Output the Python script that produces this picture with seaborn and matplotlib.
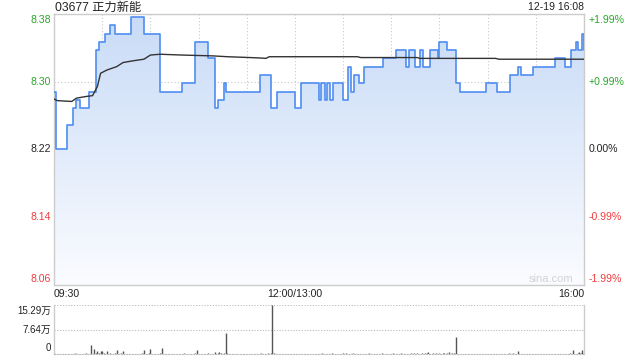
import numpy as np
import pandas as pd
import matplotlib
matplotlib.use("Agg")
import matplotlib.pyplot as plt
import matplotlib.transforms as mtransforms
from matplotlib.colors import LinearSegmentedColormap
import seaborn as sns

# ---------------- data ----------------
title = "03677 正力新能"
stamp = "12-19 16:08"
prev_close = 8.22
band = 0.0199  # +/- range of the price axis

# minute index (0 = 09:30, 150 = 12:00/13:00, 330 = 16:00) where price changes
price_min = [0, 1, 8, 12, 14, 16, 22, 26, 28, 32,
             35, 38, 48, 56, 66, 80, 88, 96, 100, 102,
             106, 107, 128, 135, 139, 150, 154, 165, 166, 169,
             170, 172, 174, 180, 183, 185, 187, 190, 193, 205,
             213, 219, 221, 225, 228, 230, 234, 239, 240, 245,
             250, 253, 269, 276, 284, 289, 291, 298, 312, 318,
             322, 325, 326, 329, 330]
price_val = [8.29, 8.22, 8.25, 8.27, 8.28, 8.27, 8.29, 8.34, 8.35, 8.36,
             8.37, 8.36, 8.38, 8.36, 8.29, 8.30, 8.35, 8.33, 8.27, 8.28,
             8.30, 8.29, 8.31, 8.27, 8.29, 8.27, 8.30, 8.28, 8.30, 8.28,
             8.30, 8.28, 8.30, 8.28, 8.32, 8.29, 8.31, 8.30, 8.32, 8.33,
             8.34, 8.32, 8.34, 8.32, 8.34, 8.32, 8.34, 8.33, 8.35, 8.34,
             8.30, 8.29, 8.30, 8.29, 8.31, 8.32, 8.31, 8.32, 8.33, 8.32,
             8.34, 8.35, 8.34, 8.36, 8.34]

# average price line
avg_min = [0, 2, 11, 14, 20, 24, 27, 29, 33, 39,
           43, 49, 56, 60, 66, 80, 99, 108, 122, 128,
           132, 134, 189, 191, 226, 228, 275, 277, 330]
avg_val = [8.281, 8.279, 8.278, 8.282, 8.284, 8.285, 8.296, 8.312, 8.316, 8.320,
           8.325, 8.327, 8.329, 8.334, 8.335, 8.334, 8.333, 8.332, 8.331, 8.3305,
           8.330, 8.332, 8.332, 8.331, 8.331, 8.330, 8.330, 8.329, 8.329]

# volume per minute, in hundreds of shares (minutes 0..330)
volume_h = [35, 8, 12, 6, 10, 14, 9, 7, 15, 11,
            6, 13, 9, 18, 10, 8, 12, 7, 11, 9,
            22, 8, 14, 290, 12, 155, 30, 100, 25, 80,
            90, 18, 12, 80, 15, 20, 10, 14, 25, 110,
            12, 9, 16, 80, 10, 8, 13, 6, 11, 9,
            14, 7, 12, 10, 8, 16, 110, 9, 12, 20,
            165, 14, 10, 8, 12, 9, 25, 175, 11, 8,
            10, 14, 7, 9, 12, 6, 10, 8, 13, 9,
            12, 18, 8, 10, 14, 9, 7, 11, 16, 110,
            14, 9, 12, 8, 10, 13, 20, 15, 9, 12,
            50, 14, 18, 50, 25, 12, 30, 670, 20, 14,
            9, 12, 8, 10, 7, 11, 9, 6, 10, 8,
            12, 9, 7, 11, 8, 10, 14, 9, 12, 16,
            10, 8, 12, 20, 14, 18, 1529, 22, 12, 9,
            11, 8, 10, 7, 9, 12, 8, 10, 6, 9,
            14, 10, 12, 8, 15, 9, 11, 7, 10, 13,
            9, 12, 8, 11, 10, 14, 9, 16, 12, 8,
            10, 13, 9, 18, 11, 8, 12, 10, 14, 9,
            16, 11, 20, 14, 9, 12, 18, 10, 8, 13,
            11, 9, 14, 12, 8, 10, 16, 9, 12, 7,
            10, 14, 9, 12, 18, 11, 8, 13, 10, 9,
            12, 16, 10, 14, 9, 11, 20, 13, 8, 12,
            14, 10, 18, 12, 16, 9, 22, 14, 12, 18,
            10, 16, 20, 50, 14, 12, 25, 10, 18, 14,
            22, 12, 16, 20, 14, 18, 60, 12, 20, 16,
            515, 14, 10, 12, 8, 11, 9, 13, 10, 7,
            12, 9, 11, 8, 14, 10, 9, 12, 8, 10,
            11, 7, 13, 9, 10, 12, 8, 14, 9, 11,
            10, 12, 8, 16, 11, 9, 20, 10, 12, 80,
            14, 9, 11, 8, 12, 10, 9, 13, 8, 11,
            10, 12, 9, 14, 8, 11, 10, 9, 12, 8,
            11, 9, 13, 10, 8, 12, 9, 11, 14, 10,
            12, 16, 9, 110, 14, 12, 18, 70, 20, 140,
            30]
vol_max_h = 1529
vol_labels = ["15.29万", "7.64万", "0"]

time_pos = [0, 150, 330]
time_labels = ["09:30", "12:00/13:00", "16:00"]

# ---------------- style ----------------
sns.set_theme(style="white")
plt.rcParams['font.family'] = ['Liberation Sans', 'Noto Sans CJK SC', 'DejaVu Sans']

GREEN = '#2aa52a'
RED = '#f03c3c'
DARK = '#222222'
GRID = '#c8c8c8'
SPINE = '#cccccc'

W, H = 640, 360
fig = plt.figure(figsize=(6.4, 3.6), dpi=100)
fig.patch.set_facecolor('white')
ax = fig.add_axes([54 / W, 1 - 285 / H, 530 / W, 271 / H])
axv = fig.add_axes([54 / W, 1 - 354 / H, 530 / W, 49 / H])

ymin = prev_close * (1 - band)
ymax = prev_close * (1 + band)

# ---------------- price panel ----------------
df_price = pd.DataFrame({'minute': price_min, 'price': price_val})
df_avg = pd.DataFrame({'minute': avg_min, 'price': avg_val})

fill = ax.fill_between(df_price['minute'], df_price['price'], ymin, step='post',
                       facecolor='none', edgecolor='none')
cmap = LinearSegmentedColormap.from_list('g', ['#fbfcff', '#c8dbf7'])
grad = np.linspace(1, 0, 256).reshape(-1, 1)
im = ax.imshow(grad, extent=[0, 330, ymin, ymax], aspect='auto', cmap=cmap,
               origin='upper', zorder=1, interpolation='bilinear')
im.set_clip_path(fill.get_paths()[0], transform=ax.transData)

sns.lineplot(data=df_price, x='minute', y='price', ax=ax, drawstyle='steps-post',
             color='#4f8ef0', linewidth=1.2, zorder=3)
sns.lineplot(data=df_avg, x='minute', y='price', ax=ax,
             color='#333333', linewidth=1.0, zorder=4)

ax.set_xlim(0, 330)
ax.set_ylim(ymin, ymax)
ax.set_xticks(range(0, 331, 30))
yt = [prev_close * (1 + band * k / 2) for k in (2, 1, 0, -1, -2)]
ax.set_yticks(yt)
ax.grid(True, linestyle=(0, (1, 2)), color=GRID, linewidth=0.8)
ax.set_xlabel('')
ax.set_ylabel('')
ax.tick_params(length=0, labelleft=False, labelbottom=False)
for s in ax.spines.values():
    s.set_color(SPINE)
    s.set_linewidth(1.0)

left_lbls = [f"{v:.2f}" for v in yt]
right_lbls = ["+1.99%", "+0.99%", "0.00%", "-0.99%", "-1.99%"]
colors = [GREEN, GREEN, DARK, RED, RED]
vas = ['top', 'center', 'center', 'center', 'bottom']
offs = [-1, 0, 0, 0, 1]
trans = mtransforms.blended_transform_factory(ax.transAxes, ax.transData)
for v, l, r, c, va, o in zip(yt, left_lbls, right_lbls, colors, vas, offs):
    off = mtransforms.ScaledTranslation(0, o / 100, fig.dpi_scale_trans)
    ax.text(-3 / 530, v, l, transform=trans + off, ha='right', va=va,
            color=c, fontsize=7.6)
    ax.text(1 + 5 / 530, v, r, transform=trans + off, ha='left', va=va,
            color=c, fontsize=7.6)

ax.text(573 / W, 1 - 279 / H, "sina.com", transform=fig.transFigure,
        ha='right', va='center', color='#d2d2d2', fontsize=8)

fig.text(55 / W, 1 - 8 / H, title, ha='left', va='center', color=DARK, fontsize=8.8)
fig.text(584 / W, 1 - 7.5 / H, stamp, ha='right', va='center', color=DARK, fontsize=7.5)

xtrans = mtransforms.blended_transform_factory(ax.transData, fig.transFigure)
for p, lab, ha in zip(time_pos, time_labels, ['left', 'center', 'right']):
    ax.text(p, 1 - 294 / H, lab, transform=xtrans, ha=ha, va='center',
            color=DARK, fontsize=7.6)

# ---------------- volume panel ----------------
minutes = np.arange(len(volume_h))
axv.vlines(minutes, 0, volume_h, color='#555555', linewidth=1.0)
axv.set_xlim(0, 330)
axv.set_ylim(0, vol_max_h)
axv.set_xticks([])
axv.set_yticks([vol_max_h / 2, vol_max_h])
axv.grid(True, axis='y', linestyle=(0, (1, 1.5)), color='#bbbbbb', linewidth=0.8)
axv.tick_params(length=0, labelleft=False, labelbottom=False)
for k in ('left', 'right'):
    axv.spines[k].set_color(SPINE)
    axv.spines[k].set_linewidth(1.0)
axv.spines['top'].set_visible(False)
axv.spines['bottom'].set_color('#bbbbbb')
axv.spines['bottom'].set_linestyle((0, (1, 1.5)))
axv.spines['bottom'].set_linewidth(0.8)

vtrans = mtransforms.blended_transform_factory(axv.transAxes, axv.transData)
for v, lab, va, o in zip([vol_max_h, vol_max_h / 2, 0], vol_labels,
                         ['top', 'center', 'bottom'], [-1, 0, 1]):
    off = mtransforms.ScaledTranslation(0, o / 100, fig.dpi_scale_trans)
    axv.text(-3 / 530, v, lab, transform=vtrans + off, ha='right', va=va,
             color=DARK, fontsize=7.0)

fig.savefig("out.png", dpi=100)
